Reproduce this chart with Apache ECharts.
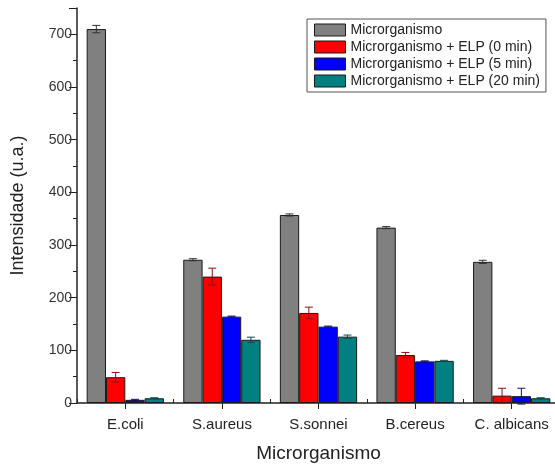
<!DOCTYPE html>
<html><head><meta charset="utf-8">
<script src="https://cdn.jsdelivr.net/npm/echarts@6/dist/echarts.min.js"></script>
<style>html,body{margin:0;padding:0;background:#fff}#c{width:555px;height:464px}</style>
</head><body><div id="c"></div>
<script>
const categories = ['E.coli', 'S.aureus', 'S.sonnei', 'B.cereus', 'C. albicans'];
const seriesNames = ['Microrganismo', 'Microrganismo + ELP (0 min)', 'Microrganismo + ELP (5 min)', 'Microrganismo + ELP (20 min)'];
const colors = ['#808080', '#ff0000', '#0000ff', '#008080'];
const errColors = ['#333333', '#8a1010', '#10106a', '#0d4a4a'];
const valMicro = [710, 272, 357, 333, 268];
const valELP0 = [49, 240, 171, 91, 14];
const valELP5 = [6, 164, 145, 79, 13];
const valELP20 = [9, 120, 126, 80, 9];
const errMicro = [7, 2, 2, 2, 3];
const errELP0 = [9, 16, 11, 5, 14];
const errELP5 = [1, 1, 1, 1, 15];
const errELP20 = [1, 5, 3, 1, 1];
const yTicks = { min: 0, max: 750, interval: 100 };

const values = [valMicro, valELP0, valELP5, valELP20];
const errors = [errMicro, errELP0, errELP5, errELP20];

const chart = echarts.init(document.getElementById('c'));
const font = 'Liberation Sans, Arial, sans-serif';

const barSeries = values.map((v, i) => ({
  name: seriesNames[i], type: 'bar', data: v,
  barGap: '0%', barCategoryGap: '20%',
  itemStyle: { color: colors[i], borderColor: '#1a1a1a', borderWidth: 1 },
  z: 2
}));

const errSeries = values.map((v, i) => ({
  type: 'custom', name: seriesNames[i] + ' err', z: 3,
  data: v.map((val, k) => [k, val, errors[i][k]]),
  renderItem: function (params, api) {
    const k = api.value(0), val = api.value(1), e = api.value(2);
    const cw = api.size([1, 0])[0];
    const c = api.coord([k, val]);
    const x = c[0] + (i - 1.5) * cw * 0.2;
    const top = api.coord([k, val + e])[1];
    const bot = api.coord([k, val - e])[1];
    const cap = 4;
    const st = { stroke: errColors[i], lineWidth: 1 };
    return { type: 'group', children: [
      { type: 'line', shape: { x1: x, y1: top, x2: x, y2: bot }, style: st },
      { type: 'line', shape: { x1: x - cap, y1: top, x2: x + cap, y2: top }, style: st },
      { type: 'line', shape: { x1: x - cap, y1: bot, x2: x + cap, y2: bot }, style: st }
    ]};
  },
  silent: true, tooltip: { show: false }
}));

chart.setOption({
  animation: false,
  textStyle: { fontFamily: font },
  grid: { left: 77, right: -5, top: 8, bottom: 61, containLabel: false, outerBoundsMode: 'none' },
  legend: {
    data: seriesNames.map(n => ({ name: n, icon: 'rect' })), orient: 'vertical', left: 307, top: 19,
    itemWidth: 31, itemHeight: 12, itemGap: 3,
    padding: [4, 6, 4, 7],
    borderColor: '#555', borderWidth: 1, backgroundColor: '#fff', borderRadius: 0,
    textStyle: { fontSize: 14, lineHeight: 14, color: '#222', fontFamily: font },
    itemStyle: { borderColor: '#1a1a1a', borderWidth: 1 }
  },
  xAxis: [{
    type: 'category', data: categories,
    name: 'Microrganismo', nameLocation: 'middle', nameGap: 41,
    nameTextStyle: { fontSize: 19, color: '#222', fontFamily: font },
    axisLine: { lineStyle: { color: '#222', width: 1.5 } },
    axisTick: { show: true, alignWithLabel: true, interval: 0, length: 6, lineStyle: { color: '#222' } },
    axisLabel: { fontSize: 15, color: '#222', margin: 14, interval: 0, hideOverlap: false }
  }, {
    type: 'category', data: categories, position: 'bottom',
    axisLine: { show: false },
    axisTick: { show: true, inside: true, interval: 0, length: 4, lineStyle: { color: '#222' } },
    axisLabel: { show: false }
  }],
  yAxis: {
    type: 'value', min: yTicks.min, max: yTicks.max, interval: yTicks.interval,
    name: 'Intensidade (u.a.)', nameLocation: 'middle', nameGap: 50,
    nameTextStyle: { fontSize: 18, color: '#222', fontFamily: font },
    axisLine: { show: true, lineStyle: { color: '#222', width: 1.5 } },
    axisTick: { show: true, length: 8, lineStyle: { color: '#222' } },
    minorTick: { show: true, splitNumber: 2, length: 4, lineStyle: { color: '#222' } },
    splitLine: { show: false },
    axisLabel: { fontSize: 14, color: '#333', margin: 5, showMaxLabel: false }
  },
  series: barSeries.concat(errSeries)
});
</script></body></html>
